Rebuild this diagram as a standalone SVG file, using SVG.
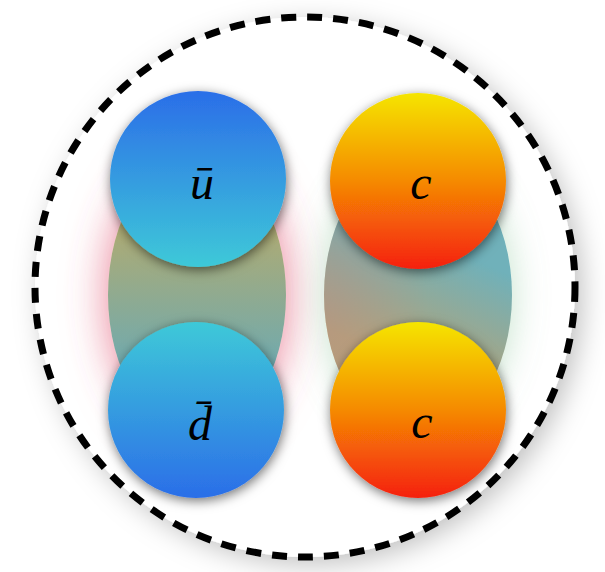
<svg xmlns="http://www.w3.org/2000/svg" width="605" height="572" viewBox="0 0 605 572">
<defs>
<style>
.q{font-family:"Liberation Serif","DejaVu Serif",serif;font-style:italic;font-size:48px;fill:#000;text-anchor:middle}
</style>
<filter id="outer" x="-20%" y="-20%" width="140%" height="140%">
<feDropShadow dx="7" dy="7" stdDeviation="14" flood-color="#000" flood-opacity="0.25"/>
</filter>
<filter id="sh" x="-30%" y="-30%" width="160%" height="160%">
<feDropShadow dx="1" dy="3" stdDeviation="6" flood-color="#000" flood-opacity="0.55"/>
</filter>
<filter id="glowR" x="-60%" y="-50%" width="220%" height="200%">
<feDropShadow dx="0" dy="0" stdDeviation="22" flood-color="#e04868" flood-opacity="0.7"/>
</filter>
<filter id="glowG" x="-60%" y="-50%" width="220%" height="200%">
<feDropShadow dx="0" dy="0" stdDeviation="18" flood-color="#70b880" flood-opacity="0.4"/>
</filter>
<linearGradient id="blueDown" x1="0" y1="0" x2="0" y2="1">
<stop offset="0" stop-color="#2b6ee8"/>
<stop offset="1" stop-color="#3ec9d8"/>
</linearGradient>
<linearGradient id="blueUp" x1="0" y1="0" x2="0" y2="1">
<stop offset="0" stop-color="#3ec9d8"/>
<stop offset="1" stop-color="#2b6ee8"/>
</linearGradient>
<linearGradient id="orange" x1="0" y1="0" x2="0" y2="1">
<stop offset="0" stop-color="#f5e500"/>
<stop offset="0.5" stop-color="#f58a05"/>
<stop offset="1" stop-color="#f5200a"/>
</linearGradient>
<linearGradient id="ellL" x1="0" y1="0" x2="0" y2="1">
<stop offset="0.2" stop-color="#b6ab6c"/>
<stop offset="0.8" stop-color="#6aaab4"/>
</linearGradient>
<linearGradient id="ellR" x1="0.6" y1="0.2" x2="0.4" y2="0.85">
<stop offset="0.15" stop-color="#6fb1ba"/>
<stop offset="0.85" stop-color="#b9a274"/>
</linearGradient>
<radialGradient id="ellRside" cx="0" cy="0.55" r="0.55">
<stop offset="0" stop-color="#b08a90" stop-opacity="0.4"/>
<stop offset="1" stop-color="#b08a90" stop-opacity="0"/>
</radialGradient>
</defs>
<rect width="605" height="572" fill="#fff"/>
<g id="boundary">
<circle cx="305" cy="287" r="270" fill="#fff" filter="url(#outer)"/>
</g>
<g id="pair-left">
<ellipse cx="197" cy="295" rx="89" ry="140" fill="url(#ellL)" filter="url(#glowR)"/>
</g>
<g id="pair-right">
<ellipse cx="418" cy="295" rx="94" ry="140" fill="url(#ellR)" filter="url(#glowG)"/>
<ellipse cx="418" cy="295" rx="94" ry="140" fill="url(#ellRside)"/>
</g>
<g id="boundary-line">
<circle cx="305" cy="287" r="270" fill="none" stroke="#000" stroke-width="7" stroke-dasharray="15 11"/>
</g>
<g id="connectors"></g>
<g id="ubar">
<circle cx="198" cy="179" r="88" fill="url(#blueDown)" filter="url(#sh)"/>
<text class="q" x="202" y="199">ū</text>
</g>
<g id="dbar">
<circle cx="196" cy="410" r="88" fill="url(#blueUp)" filter="url(#sh)"/>
<text class="q" x="200" y="440">d̄</text>
</g>
<g id="c-top">
<circle cx="418" cy="181" r="88" fill="url(#orange)" filter="url(#sh)"/>
<text class="q" x="421" y="199">c</text>
</g>
<g id="c-bottom">
<circle cx="418" cy="410" r="88" fill="url(#orange)" filter="url(#sh)"/>
<text class="q" x="422" y="438">c</text>
</g>
</svg>
